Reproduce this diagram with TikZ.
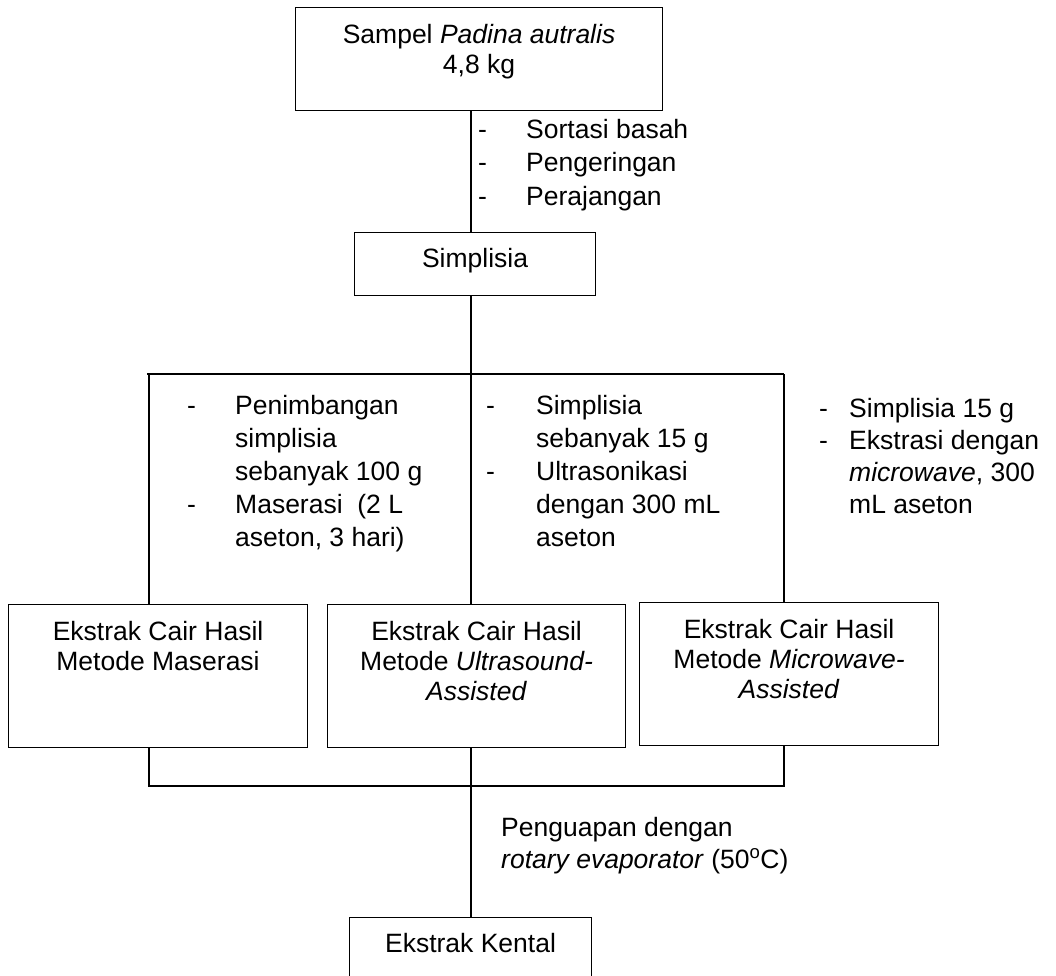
\documentclass[tikz,border=0pt]{standalone}
\usepackage{fontspec}
\setmainfont{Liberation Sans}
\usepackage{array}
\tikzset{
  box/.style={draw, line width=1.1pt, inner sep=0pt, anchor=north west},
  txt/.style={inner sep=0pt, font=\fontsize{26.5}{30}\selectfont},
  lst/.style={inner sep=0pt, anchor=base west, font=\fontsize{26.5}{33}\selectfont},
  conn/.style={line width=1.1pt},
}
\begin{document}
\begin{tikzpicture}[x=1pt,y=-1pt]
\useasboundingbox (0,0) rectangle (1056,975);
\clip (0,0) rectangle (1056,975);
% boxes
\node[box, minimum width=367pt, minimum height=103pt] (samp) at (295,7) {};
\node[txt, anchor=base] (sampT) at ([yshift=-36pt]samp.north) {\begin{tabular}[t]{@{}c@{}}Sampel \textit{Padina autralis}\\4,8 kg\end{tabular}};
\node[box, minimum width=241pt, minimum height=63pt] (simp) at (354,232) {};
\node[txt, anchor=base] (simpT) at ([yshift=-35pt]simp.north) {Simplisia};
\node[box, minimum width=299pt, minimum height=143pt] (ekm) at (8,604) {};
\node[txt, anchor=base] (ekmT) at ([yshift=-36pt]ekm.north) {\begin{tabular}[t]{@{}c@{}}Ekstrak Cair Hasil\\Metode Maserasi\end{tabular}};
\node[box, minimum width=298pt, minimum height=143pt] (eku) at (327,604) {};
\node[txt, anchor=base] (ekuT) at ([yshift=-36pt]eku.north) {\begin{tabular}[t]{@{}c@{}}Ekstrak Cair Hasil\\Metode \textit{Ultrasound-}\\\textit{Assisted}\end{tabular}};
\node[box, minimum width=299pt, minimum height=143pt] (ekw) at (639,602) {};
\node[txt, anchor=base] (ekwT) at ([yshift=-36pt]ekw.north) {\begin{tabular}[t]{@{}c@{}}Ekstrak Cair Hasil\\Metode \textit{Microwave-}\\\textit{Assisted}\end{tabular}};
\node[box, minimum width=242pt, minimum height=90pt] (kent) at (349,917) {};
\node[txt, anchor=base] (kentT) at ([yshift=-35pt]kent.north) {Ekstrak Kental};
% lists
\node[lst, font=\fontsize{26.5}{33.5}\selectfont] (l0) at (478,138) {\begin{tabular}[t]{@{}p{48pt}@{}l@{}}-&Sortasi basah\\-&Pengeringan\\-&Perajangan\end{tabular}};
\node[lst] (l1) at (187,414) {\begin{tabular}[t]{@{}p{48pt}@{}l@{}}-&Penimbangan\\&simplisia\\&sebanyak 100 g\\-&Maserasi\ \ (2 L\\&aseton, 3 hari)\end{tabular}};
\node[lst] (l2) at (486,414) {\begin{tabular}[t]{@{}p{50pt}@{}l@{}}-&Simplisia\\&sebanyak 15 g\\-&Ultrasonikasi\\&dengan 300 mL\\&aseton\end{tabular}};
\node[lst, font=\fontsize{26.5}{32}\selectfont] (l3) at (819,417) {\begin{tabular}[t]{@{}p{30pt}@{}l@{}}-&Simplisia 15 g\\-&Ekstrasi dengan\\&\textit{microwave}, 300\\&mL aseton\end{tabular}};
\node[lst, font=\fontsize{26.5}{32}\selectfont] (l4) at (501,836) {\begin{tabular}[t]{@{}l@{}}Penguapan dengan\\\textit{rotary evaporator} (50\textsuperscript{o}C)\end{tabular}};
% junctions
\coordinate (jl) at (149,374);
\coordinate (jt) at (471,374);
\coordinate (jr) at (784,374);
\coordinate (bl) at (149,786);
\coordinate (bm) at (471,786);
\coordinate (br) at (784,786);
% connectors
\draw[conn] (jt |- samp.south) -- (jt |- simp.north);
\draw[conn] (jt |- simp.south) -- (jt);
\draw[conn] ([xshift=-2pt]jl) -- (jr);
\draw[conn] (jl) -- (jl |- ekm.north);
\draw[conn] (jt) -- (jt |- eku.north);
\draw[conn] (jr) -- (jr |- ekw.north);
\draw[conn] (bl |- ekm.south) -- (bl) -- (br) -- (br |- ekw.south);
\draw[conn] (bm |- eku.south) -- (bm |- kent.north);
\end{tikzpicture}
\end{document}
